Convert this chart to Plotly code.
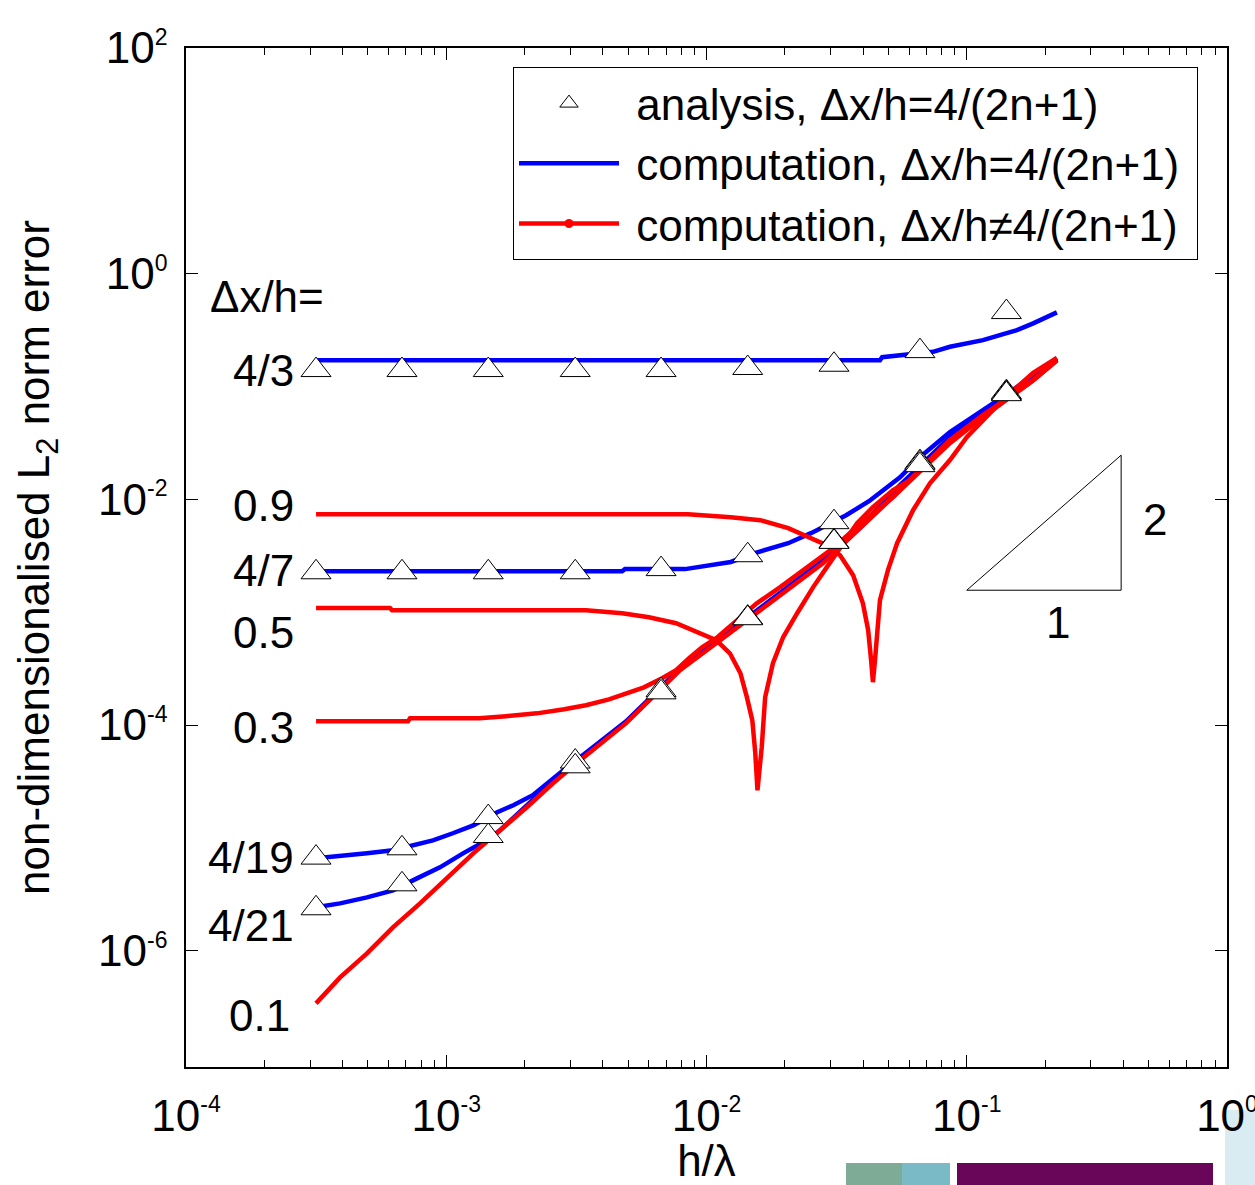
import numpy as np
import plotly.graph_objects as go

# ---------------- data ----------------
# analysis points (triangles), h/lambda
h_ana = [3.16e-4, 6.76e-4, 1.45e-3, 3.13e-3, 6.69e-3, 1.44e-2, 3.09e-2, 6.61e-2, 1.42e-1]
ana_4_3 = [0.140, 0.140, 0.140, 0.140, 0.140, 0.146, 0.156, 0.206, 0.457]
ana_4_7 = [2.26e-3, 2.26e-3, 2.26e-3, 2.26e-3, 2.41e-3, 3.20e-3, 6.28e-3, 2.14e-2, 8.92e-2]
ana_4_19 = [6.69e-6, 8.09e-6, 1.53e-5, 4.75e-5, 2.04e-4, 8.97e-4, 4.26e-3, 2.09e-2, 8.74e-2]
ana_4_21 = [2.38e-6, 3.88e-6, 1.04e-5, 4.31e-5, 1.95e-4, 8.85e-4, 4.20e-3, 2.01e-2, 8.56e-2]

# computation, dx/h = 4/(2n+1)  (blue)
x_c43 = [3.16e-4, 4.64e-2, 4.73e-2, 5.54e-2, 7.42e-2, 8.62e-2, 0.100, 0.1155, 0.134, 0.156, 0.180, 0.203, 0.222]
y_c43 = [0.171, 0.171, 0.182, 0.190, 0.203, 0.225, 0.241, 0.258, 0.286, 0.316, 0.363, 0.415, 0.454]

x_c47 = [3.16e-4, 4.74e-3, 4.86e-3, 8.27e-3, 1.24e-2, 1.52e-2, 2.06e-2, 2.52e-2, 3.44e-2, 4.21e-2,
         5.54e-2, 6.61e-2, 8.62e-2, 0.1155, 0.1466, 0.180, 0.222]
y_c47 = [2.31e-3, 2.31e-3, 2.41e-3, 2.41e-3, 2.79e-3, 3.33e-3, 4.09e-3, 5.02e-3, 7.24e-3, 9.64e-3,
         1.57e-2, 2.37e-2, 3.94e-2, 6.18e-2, 8.92e-2, 0.126, 0.179]

x_c419 = [3.16e-4, 3.91e-4, 4.96e-4, 6.24e-4, 7.45e-4, 8.89e-4, 1.06e-3, 1.27e-3, 1.57e-3, 1.81e-3,
          2.15e-3, 2.44e-3, 2.91e-3, 3.27e-3, 4.91e-3, 6.23e-3, 7.91e-3, 1.09e-2, 1.48e-2, 2.04e-2,
          2.80e-2, 3.89e-2, 5.54e-2, 8.62e-2, 0.1155, 0.1466, 0.180, 0.222]
y_c419 = [6.59e-6, 6.87e-6, 7.30e-6, 7.77e-6, 8.60e-6, 9.52e-6, 1.10e-5, 1.29e-5, 1.69e-5, 1.95e-5,
          2.39e-5, 3.05e-5, 4.22e-5, 5.18e-5, 1.08e-4, 1.84e-4, 3.19e-4, 5.53e-4, 9.41e-4, 1.63e-3,
          2.89e-3, 5.67e-3, 1.34e-2, 3.56e-2, 5.93e-2, 8.39e-2, 0.119, 0.175]

x_c421 = [3.16e-4, 3.91e-4, 4.96e-4, 6.24e-4, 7.72e-4, 9.46e-4, 1.16e-3, 1.43e-3, 1.61e-3, 2.04e-3,
          2.57e-3, 3.27e-3, 4.91e-3, 6.23e-3, 7.91e-3, 1.09e-2, 1.48e-2, 2.04e-2, 2.80e-2, 3.89e-2,
          5.54e-2, 8.62e-2, 0.1155, 0.1466, 0.180, 0.222]
y_c421 = [2.43e-6, 2.63e-6, 2.97e-6, 3.43e-6, 4.38e-6, 5.49e-6, 7.30e-6, 9.52e-6, 1.17e-5, 1.95e-5,
          3.18e-5, 5.08e-5, 1.06e-4, 1.80e-4, 3.12e-4, 5.42e-4, 9.22e-4, 1.60e-3, 2.83e-3, 5.60e-3,
          1.30e-2, 3.50e-2, 5.85e-2, 8.30e-2, 0.117, 0.173]

# computation, dx/h != 4/(2n+1)  (red)
x_r01 = [3.16e-4, 3.91e-4, 4.96e-4, 6.24e-4, 7.93e-4, 1.01e-3, 1.27e-3, 1.61e-3, 2.04e-3, 2.57e-3,
         3.27e-3, 4.91e-3, 6.23e-3, 7.91e-3, 1.09e-2, 1.48e-2, 2.04e-2, 2.80e-2, 3.89e-2, 5.54e-2,
         8.62e-2, 0.1155, 0.1466, 0.180, 0.222]
y_r01 = [3.42e-7, 5.81e-7, 9.48e-7, 1.61e-6, 2.63e-6, 4.47e-6, 7.30e-6, 1.17e-5, 1.87e-5, 3.05e-5,
         4.87e-5, 1.04e-4, 1.76e-4, 3.06e-4, 5.31e-4, 9.03e-4, 1.57e-3, 2.72e-3, 5.56e-3, 1.21e-2,
         3.15e-2, 5.36e-2, 8.05e-2, 0.114, 0.171]

x_r03 = [3.16e-4, 7.13e-4, 7.26e-4, 1.34e-3, 1.70e-3, 2.23e-3, 2.84e-3, 3.44e-3, 4.22e-3, 4.91e-3,
         5.75e-3, 6.75e-3, 7.64e-3, 8.57e-3, 9.61e-3, 1.09e-2, 1.26e-2, 1.56e-2, 1.92e-2, 2.43e-2,
         3.06e-2, 3.66e-2, 4.36e-2, 5.21e-2, 6.05e-2, 8.62e-2, 0.1155, 0.1466, 0.180, 0.222]
y_r03 = [1.08e-4, 1.08e-4, 1.15e-4, 1.15e-4, 1.20e-4, 1.27e-4, 1.38e-4, 1.50e-4, 1.69e-4, 1.91e-4,
         2.16e-4, 2.60e-4, 3.06e-4, 3.91e-4, 4.89e-4, 5.88e-4, 7.83e-4, 1.20e-3, 1.67e-3, 2.46e-3,
         3.69e-3, 5.33e-3, 7.55e-3, 1.05e-2, 1.48e-2, 3.35e-2, 5.58e-2, 8.05e-2, 0.114, 0.171]

x_r05 = [3.16e-4, 6.08e-4, 6.19e-4, 3.44e-3, 4.74e-3, 6.01e-3, 7.64e-3, 9.28e-3, 1.09e-2, 1.23e-2,
         1.35e-2, 1.43e-2, 1.50e-2, 1.54e-2, 1.57e-2, 1.63e-2, 1.68e-2, 1.80e-2, 1.97e-2, 2.23e-2,
         2.57e-2, 2.90e-2, 3.26e-2, 3.79e-2, 4.36e-2, 5.21e-2, 6.05e-2, 8.62e-2, 0.1155, 0.1466,
         0.180, 0.222]
y_r05 = [1.09e-3, 1.09e-3, 1.04e-3, 1.04e-3, 9.80e-4, 9.03e-4, 7.99e-4, 6.65e-4, 5.65e-4, 4.33e-4,
         2.88e-4, 1.76e-4, 1.10e-4, 5.62e-5, 2.64e-5, 6.36e-5, 1.76e-4, 3.53e-4, 6.00e-4, 9.80e-4,
         1.67e-3, 2.51e-3, 3.77e-3, 6.15e-3, 8.53e-3, 1.21e-2, 1.48e-2, 3.35e-2, 5.58e-2, 8.05e-2,
         0.114, 0.171]

x_r09 = [3.16e-4, 8.49e-3, 1.24e-2, 1.61e-2, 2.06e-2, 2.52e-2, 2.90e-2, 3.26e-2, 3.66e-2, 3.99e-2,
         4.18e-2, 4.29e-2, 4.36e-2, 4.44e-2, 4.52e-2, 4.64e-2, 4.98e-2, 5.40e-2, 6.22e-2, 7.22e-2,
         8.62e-2, 0.100, 0.126, 0.1466, 0.180, 0.222]
y_r09 = [7.39e-3, 7.39e-3, 6.96e-3, 6.54e-3, 5.56e-3, 4.53e-3, 3.93e-3, 3.20e-3, 2.13e-3, 1.20e-3,
         6.93e-4, 3.75e-4, 2.40e-4, 3.75e-4, 6.93e-4, 1.28e-3, 2.36e-3, 4.09e-3, 8.02e-3, 1.39e-2,
         2.23e-2, 3.56e-2, 6.18e-2, 8.74e-2, 0.132, 0.179]

# slope indicator (1 : 2)
slope_x = [0.100, 0.392, 0.392, 0.100]
slope_y = [1.567e-3, 1.567e-3, 2.465e-2, 1.567e-3]

# curve labels on the left (text, y value)
label_text = ["\u0394x/h=", "4/3", "0.9", "4/7", "0.5", "0.3", "4/19", "4/21", "0.1"]
label_y = [0.633, 0.140, 8.89e-3, 2.36e-3, 6.65e-4, 9.56e-5, 6.73e-6, 1.68e-6, 2.68e-7]

x_ticks = [1e-4, 1e-3, 1e-2, 1e-1, 1e0]
x_tick_exp = ["-4", "-3", "-2", "-1", "0"]
y_ticks = [1e-6, 1e-4, 1e-2, 1e0, 1e2]
y_tick_exp = ["-6", "-4", "-2", "0", "2"]

BLUE = "#0000ff"
RED = "#ff0000"
FONT = "Liberation Sans, Arial, sans-serif"
FS = 44
LW = 4.5

fig = go.Figure()

# blue computed curves
blue_sets = [(x_c43, y_c43), (x_c47, y_c47), (x_c419, y_c419), (x_c421, y_c421)]
for i, (xs, ys) in enumerate(blue_sets):
    fig.add_trace(go.Scatter(
        x=xs, y=ys, mode="lines", line=dict(color=BLUE, width=LW),
        name="\u00a0computation, \u0394x/h=4/(2n+1)\u00a0", legendgroup="blue", legendrank=2,
        showlegend=(i == 0), hoverinfo="skip"))

# red computed curves
red_sets = [(x_r09, y_r09), (x_r05, y_r05), (x_r03, y_r03), (x_r01, y_r01)]
for xs, ys in red_sets:
    fig.add_trace(go.Scatter(
        x=xs, y=ys, mode="lines", line=dict(color=RED, width=LW),
        legendgroup="red", showlegend=False, hoverinfo="skip"))
# legend entry for red (line with dot marker)
fig.add_trace(go.Scatter(
    x=[None], y=[None], mode="lines+markers", line=dict(color=RED, width=LW),
    marker=dict(color=RED, size=9), name="\u00a0computation, \u0394x/h\u22604/(2n+1)\u00a0",
    legendgroup="red", legendrank=3, showlegend=True))

# analysis triangles
ana_sets = [ana_4_3, ana_4_7, ana_4_19, ana_4_21]
for i, ys in enumerate(ana_sets):
    fig.add_trace(go.Scatter(
        x=h_ana, y=ys, mode="markers",
        marker=dict(symbol="triangle-up", size=26, color="white",
                    line=dict(color="black", width=1)),
        name="\u00a0analysis, \u0394x/h=4/(2n+1)", legendgroup="ana", legendrank=1,
        showlegend=(i == 0), hoverinfo="skip"))

# slope triangle
fig.add_trace(go.Scatter(x=slope_x, y=slope_y, mode="lines",
                         line=dict(color="black", width=1), showlegend=False,
                         hoverinfo="skip"))

annotations = []
lab_x = [3.45e-4] + [2.65e-4] * 7 + [2.56e-4]
for t, xv, yv in zip(label_text, lab_x, label_y):
    annotations.append(dict(x=np.log10(xv), y=np.log10(yv), xref="x", yref="y",
                            text=t, showarrow=False, xanchor="right", yanchor="middle",
                            font=dict(family=FONT, size=FS, color="black")))
annotations.append(dict(x=np.log10(0.529), y=np.log10(6.68e-3), xref="x", yref="y",
                        text="2", showarrow=False, xanchor="center", yanchor="middle",
                        font=dict(family=FONT, size=FS, color="black")))
annotations.append(dict(x=np.log10(0.224), y=np.log10(8.15e-4), xref="x", yref="y",
                        text="1", showarrow=False, xanchor="center", yanchor="middle",
                        font=dict(family=FONT, size=FS, color="black")))


def pw(e):
    return "10<sup><span style='font-size:23px'>" + e + "</span></sup>"


minor_vals = [m * 10.0 ** d for d in range(-4, 0) for m in range(2, 10)]

axis_common = dict(type="log", showgrid=False, zeroline=False, showline=True,
                   linecolor="black", linewidth=1.5, mirror="allticks",
                   ticks="inside", ticklen=12, tickwidth=1, tickcolor="black",
                   automargin=False, ticklabeloverflow="allow",
                   tickfont=dict(family=FONT, size=FS, color="black"))

fig.update_layout(
    width=1255, height=1185,
    margin=dict(l=186, r=28, t=48, b=118),
    paper_bgcolor="white", plot_bgcolor="white",
    font=dict(family=FONT, size=FS, color="black"),
    xaxis=dict(axis_common, range=[-4, 0], tickmode="array", tickvals=x_ticks,
               ticktext=[pw(e) for e in x_tick_exp], ticklabelstandoff=9,
               minor=dict(tickmode="array", tickvals=minor_vals, ticks="inside",
                          ticklen=7, tickcolor="black", showgrid=False),
               title=dict(text="h/\u03bb", font=dict(family=FONT, size=FS), standoff=4)),
    yaxis=dict(axis_common, range=[-7.03, 2.0], tickmode="array", tickvals=y_ticks,
               ticktext=[pw(e) for e in y_tick_exp], ticklabelstandoff=8,
               title=dict(text="non-dimensionalised L<sub>2</sub> norm error",
                          font=dict(family=FONT, size=FS), standoff=35)),
    legend=dict(x=(513 - 186) / 1041, y=(1067 - 67) / 1019, xanchor="left", yanchor="top",
                bgcolor="white", bordercolor="black", borderwidth=1,
                font=dict(family=FONT, size=FS, color="black"),
                itemwidth=100, traceorder="grouped", tracegroupgap=0),
    annotations=annotations,
    shapes=[
        dict(type="rect", xref="paper", yref="paper", x0=(846 - 186) / 1041, x1=(902 - 186) / 1041,
             y0=(1067 - 1190) / 1019, y1=(1067 - 1163) / 1019, line=dict(width=0), fillcolor="#7eab95"),
        dict(type="rect", xref="paper", yref="paper", x0=(902 - 186) / 1041, x1=(950 - 186) / 1041,
             y0=(1067 - 1190) / 1019, y1=(1067 - 1163) / 1019, line=dict(width=0), fillcolor="#7ab9c6"),
        dict(type="rect", xref="paper", yref="paper", x0=(957 - 186) / 1041, x1=(1213 - 186) / 1041,
             y0=(1067 - 1190) / 1019, y1=(1067 - 1163) / 1019, line=dict(width=0), fillcolor="#6a0659"),
        dict(type="rect", xref="paper", yref="paper", x0=(1225 - 186) / 1041, x1=(1260 - 186) / 1041,
             y0=(1067 - 1190) / 1019, y1=(1067 - 1110) / 1019, line=dict(width=0), fillcolor="#d9ecf1",
             layer="below"),
    ],
)

fig.write_html("out.html")
